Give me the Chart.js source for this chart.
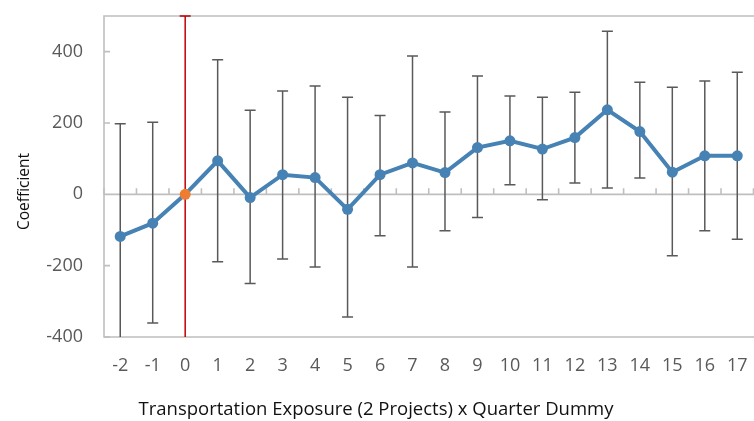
<!DOCTYPE html>
<html><head><meta charset="utf-8">
<script src="https://cdn.jsdelivr.net/npm/chart.js@4.4.1/dist/chart.umd.min.js"></script>
<style>
html,body{margin:0;padding:0;background:#fff;overflow:hidden;width:754px;height:421px;}
#wrap{position:relative;width:759px;height:421px;}
</style></head><body>
<div id="wrap"><canvas id="c"></canvas></div>
<script>
const categories = ['-2','-1','0','1','2','3','4','5','6','7','8','9','10','11','12','13','14','15','16','17'];
const coefficients = [-118,-81,0,94,-9,55,47,-42,55,88,61,131,150,127,159,237,176,62,108,108];
const upperBounds = [198,202,500,377,236,290,304,272,221,388,231,332,276,272,286,457,314,300,318,342];
const lowerBounds = [-435,-361,-500,-189,-250,-181,-204,-344,-116,-204,-102,-65,27,-15,32,18,46,-172,-102,-126];
const yTicks = [-400,-200,0,200,400];
const referenceCategory = '0';
const xTitle = 'Transportation Exposure (2 Projects) x Quarter Dummy';
const yTitle = 'Coefficient';

const FONT = 'Open Sans';
const LINE_BLUE = '#4682b4';
const REF_ORANGE = '#ed7d31';
const REF_RED = '#c00000';
const BAR_GRAY = '#595959';
const FRAME_GRAY = '#bfbfbf';
const TITLE_COLOR = '#111';

const decor = {
  id: 'decor',
  beforeDatasetsDraw(chart) {
    const {ctx, chartArea: a, scales: {x, y}} = chart;
    ctx.save();
    ctx.strokeStyle = FRAME_GRAY;
    ctx.lineWidth = 1.6;
    ctx.beginPath();
    ctx.moveTo(a.right + 10, a.top); ctx.lineTo(a.left, a.top);
    ctx.lineTo(a.left, a.bottom); ctx.lineTo(a.right + 10, a.bottom);
    ctx.stroke();
    ctx.beginPath();
    yTicks.forEach(v => {
      const py = y.getPixelForValue(v);
      ctx.moveTo(a.left, py); ctx.lineTo(a.left + 6, py);
    });
    const y0 = y.getPixelForValue(0);
    ctx.moveTo(a.left, y0); ctx.lineTo(a.right + 10, y0);
    const half = (x.getPixelForValue(1) - x.getPixelForValue(0)) / 2;
    for (let i = 0; i <= categories.length; i++) {
      const px = x.getPixelForValue(i) - half;
      ctx.moveTo(px, y0); ctx.lineTo(px, y0 - 6);
    }
    ctx.stroke();
    ctx.beginPath();
    ctx.rect(a.left, a.top - 1, a.right - a.left + 10, a.bottom - a.top + 1);
    ctx.clip();
    ctx.lineWidth = 1.5;
    categories.forEach((c, i) => {
      const px = x.getPixelForValue(i);
      const pt = y.getPixelForValue(upperBounds[i]);
      const pb = y.getPixelForValue(lowerBounds[i]);
      ctx.strokeStyle = c === referenceCategory ? REF_RED : BAR_GRAY;
      ctx.beginPath();
      ctx.moveTo(px, pt); ctx.lineTo(px, pb);
      ctx.moveTo(px - 5.5, pt); ctx.lineTo(px + 5.5, pt);
      ctx.moveTo(px - 5.5, pb); ctx.lineTo(px + 5.5, pb);
      ctx.stroke();
    });
    ctx.restore();
  },
  afterDraw(chart) {
    const {ctx} = chart;
    ctx.save();
    ctx.fillStyle = TITLE_COLOR;
    ctx.textAlign = 'center';
    ctx.textBaseline = 'middle';
    ctx.font = `18.5px "${FONT}"`;
    ctx.fillText(xTitle, 376, 410);
    ctx.translate(25, 191.5);
    ctx.rotate(-Math.PI / 2);
    ctx.font = `15.5px "${FONT}"`;
    ctx.fillText(yTitle, 0, 0);
    ctx.restore();
  }
};

new Chart(document.getElementById('c'), {
  type: 'line',
  data: {
    labels: categories,
    datasets: [{
      data: coefficients,
      borderColor: LINE_BLUE,
      borderWidth: 4,
      tension: 0,
      pointRadius: 5.5,
      pointHoverRadius: 5.5,
      pointBorderWidth: 0,
      pointBackgroundColor: c => categories[c.dataIndex] === referenceCategory ? REF_ORANGE : LINE_BLUE,
      pointBorderColor: c => categories[c.dataIndex] === referenceCategory ? REF_ORANGE : LINE_BLUE,
      clip: false
    }]
  },
  options: {
    responsive: true,
    maintainAspectRatio: false,
    animation: false,
    layout: {padding: {top: 16, left: 0, right: 0, bottom: 0}},
    plugins: {legend: {display: false}, tooltip: {enabled: false}},
    scales: {
      x: {
        offset: true,
        afterFit(s) { s.height = 84; s.paddingLeft = 0; s.paddingRight = 0; },
        grid: {display: false, drawTicks: false},
        border: {display: false},
        ticks: {padding: 18, color: BAR_GRAY, font: {family: FONT, size: 18}, maxRotation: 0, autoSkip: false},
        title: {display: false, text: xTitle}
      },
      y: {
        min: -400, max: 500,
        afterBuildTicks(s) { s.ticks = yTicks.map(v => ({value: v})); },
        afterFit(s) { s.width = 104; s.paddingTop = 0; s.paddingBottom = 0; },
        grid: {display: false, drawTicks: false},
        border: {display: false},
        ticks: {padding: 21, color: BAR_GRAY, font: {family: FONT, size: 18}},
        title: {display: false, text: yTitle}
      }
    }
  },
  plugins: [decor]
});
</script>
</body></html>
